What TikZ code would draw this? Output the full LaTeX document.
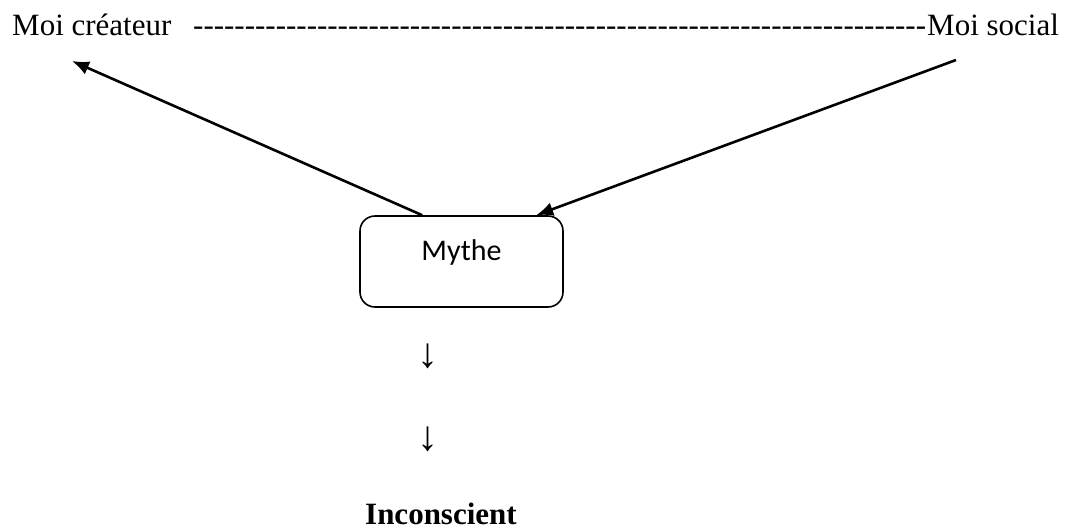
\documentclass[tikz,border=0pt]{standalone}
\usepackage{fontspec}
\newfontfamily\timesfont{Liberation Serif}
\newfontfamily\calibrifont{Carlito}
\usetikzlibrary{arrows.meta}

\newcommand{\dashrow}{-----------------------------------------------------------------------}

\begin{document}
\begin{tikzpicture}[x=1pt, y=-1pt, every node/.style={inner sep=0pt},
    txt/.style={font=\timesfont\fontsize{31}{36}\selectfont},
    link/.style={line width=2.6pt, -{Latex[length=17pt,width=14pt]}}]
    \useasboundingbox (0,0) rectangle (1074,531);

    % Top line
    \node[txt, anchor=base west] (createur) at (12,35) {Moi créateur};
    \node[txt, anchor=base west] (tirets) at (193,35) {\dashrow};
    \node[txt, anchor=base west] (social) at (927,35) {Moi social};
    \coordinate (createur-tip) at (72,61);
    \coordinate (social-end) at (956,60);

    % Mythe box
    \node[draw, line width=1.6pt, rounded corners=15pt, minimum width=203pt,
          text height=44pt, text depth=47pt, anchor=base,
          font=\calibrifont\fontsize{30}{34}\selectfont] (mythe) at (461.5,260) {Mythe};
    \draw[link] ([xshift=63pt]mythe.north west) -- (createur-tip);
    \draw[link] (social-end) -- ([xshift=177pt]mythe.north west);

    % Down to the unconscious
    \node[txt, font=\timesfont\fontsize{42}{48}\selectfont] (bas1) at (428,356) {↓};
    \node[txt, font=\timesfont\fontsize{42}{48}\selectfont] (bas2) at (428,439) {↓};
    \node[txt, anchor=base west, font=\timesfont\bfseries\fontsize{31}{36}\selectfont] (inconscient) at (365,524) {Inconscient};
\end{tikzpicture}
\end{document}
